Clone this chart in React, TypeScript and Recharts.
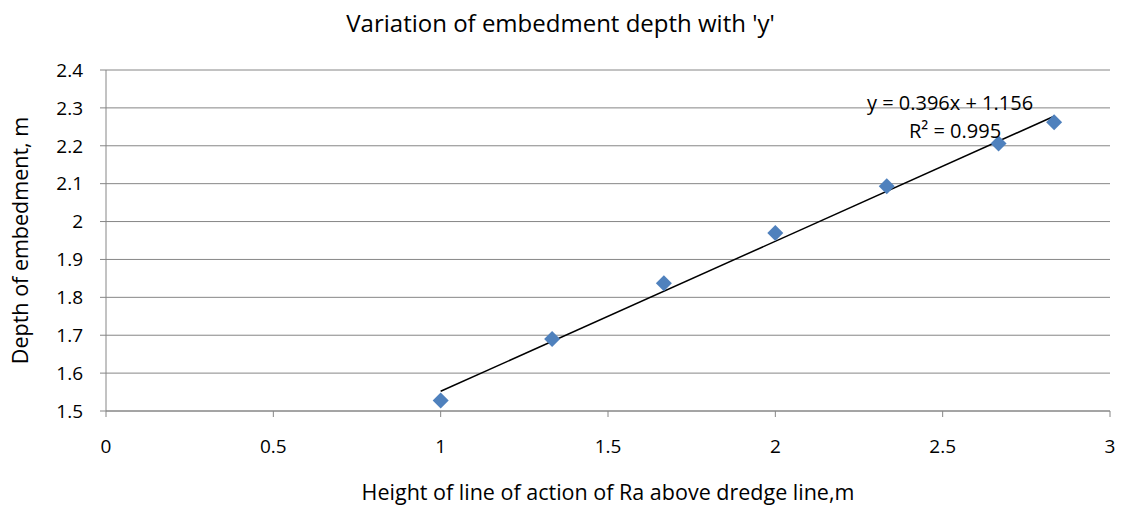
import { ScatterChart, Scatter, XAxis, YAxis, CartesianGrid, ReferenceDot, Label } from "recharts"

const xValues = [1, 1.333, 1.667, 2, 2.333, 2.667, 2.833]
const depthValues = [1.528, 1.69, 1.837, 1.97, 2.093, 2.206, 2.262]
const trendX = [1, 2.833]
const trendY = [1.552, 2.278]
const xTicks = [0, 0.5, 1, 1.5, 2, 2.5, 3]
const yTicks = [1.5, 1.6, 1.7, 1.8, 1.9, 2, 2.1, 2.2, 2.3, 2.4]

const points = xValues.map((x, i) => ({ x, y: depthValues[i] }))
const trend = trendX.map((x, i) => ({ x, y: trendY[i] }))

const FONT = "'Open Sans', sans-serif"
const AXIS = "#868686"

const Diamond = (props: any) => {
  const { cx, cy } = props
  const s = 8
  return (
    <path
      d={`M${cx},${cy - s}L${cx + s},${cy}L${cx},${cy + s}L${cx - s},${cy}Z`}
      fill="#4F81BD"
    />
  )
}

const yFmt = (v: number) => String(Math.round(v * 10) / 10)

export default function App() {
  return (
    <div style={{ position: "absolute", left: 0, top: 0, width: 1121, height: 506, background: "#fff", fontFamily: FONT }}>
      <div style={{ position: "absolute", top: 7, left: 0, width: 1121, textAlign: "center", fontSize: 24, lineHeight: "32px", color: "#000" }}>
        Variation of embedment depth with 'y'
      </div>
      <ScatterChart width={1121} height={506} margin={{ top: 70, right: 11, bottom: 0, left: 46 }}>
        <CartesianGrid horizontal vertical={false} stroke={AXIS} strokeWidth={1} />
        <XAxis
          type="number"
          dataKey="x"
          domain={[0, 3]}
          ticks={xTicks}
          interval={0}
          stroke={AXIS}
          tickSize={6}
          tick={{ fill: "#000", fontSize: 19, fontFamily: FONT }}
          tickMargin={23}
          height={95}
        >
          <Label
            value="Height of line of action of Ra above dredge line,m"
            position="insideBottom"
            offset={6}
            style={{ fill: "#000", fontSize: 21.5, fontFamily: FONT }}
          />
        </XAxis>
        <YAxis
          type="number"
          dataKey="y"
          domain={[1.5, 2.4]}
          ticks={yTicks}
          interval={0}
          tickFormatter={yFmt}
          stroke={AXIS}
          tickSize={6}
          tick={{ fill: "#000", fontSize: 19, fontFamily: FONT }}
          tickMargin={17}
          width={60}
        >
          <Label
            value="Depth of embedment, m"
            angle={-90}
            position="insideLeft"
            offset={-26}
            style={{ fill: "#000", fontSize: 21.5, fontFamily: FONT, textAnchor: "middle" }}
          />
        </YAxis>
        <Scatter
          data={trend}
          line={{ stroke: "#000", strokeWidth: 1.5 }}
          shape={() => <g />}
          isAnimationActive={false}
        />
        <Scatter data={points} shape={Diamond} isAnimationActive={false} />
        <ReferenceDot x={2.522} y={2.313} r={0} fill="none" stroke="none">
          <Label value="y = 0.396x + 1.156" position="center" style={{ fill: "#000", fontSize: 20, fontFamily: FONT }} />
        </ReferenceDot>
        <ReferenceDot x={2.537} y={2.239} r={0} fill="none" stroke="none">
          <Label value="R² = 0.995" position="center" style={{ fill: "#000", fontSize: 20, fontFamily: FONT }} />
        </ReferenceDot>
      </ScatterChart>
    </div>
  )
}
